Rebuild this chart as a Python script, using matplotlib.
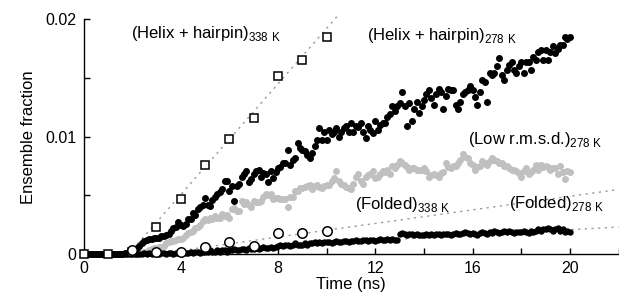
import numpy as np
import matplotlib
matplotlib.use("Agg")
import matplotlib.pyplot as plt
from matplotlib.ticker import FixedLocator

plt.rcParams['font.family'] = ['Liberation Sans', 'DejaVu Sans']
plt.rcParams['mathtext.fontset'] = 'custom'
plt.rcParams['mathtext.rm'] = 'Liberation Sans'

# ---------------- data ----------------
SCALE = 1e-4  # values below are in units of 1e-4 ensemble fraction
time_ns = np.round(np.arange(201) * 0.1, 1)

helix_hairpin_278 = [
    0, 0, 0, 0, 0, 0, 0, 0, 0, 0,
    0, 0, 0, 0, 0, 0, 0, 1, 1, 2,
    3, 4, 5, 7, 9, 11, 12, 13, 13, 14,
    14, 14, 15, 15, 16, 17, 20, 22, 23, 27,
    25, 24, 26, 30, 30, 35, 33, 38, 40, 42,
    48, 42, 41, 46, 49, 51, 53, 55, 62, 62,
    54, 58, 45, 58, 60, 66, 68, 71, 61, 64,
    68, 71, 72, 66, 69, 68, 61, 71, 65, 70,
    73, 74, 78, 78, 89, 76, 80, 82, 95, 90,
    89, 88, 84, 82, 86, 92, 97, 107, 97, 104,
    97, 106, 102, 104, 107, 100, 104, 107, 109, 104,
    112, 104, 109, 108, 112, 104, 99, 109, 106, 103,
    113, 106, 110, 112, 112, 117, 119, 126, 122, 126,
    129, 138, 126, 109, 129, 113, 124, 130, 120, 126,
    131, 136, 140, 133, 127, 136, 141, 138, 124, 135,
    141, 140, 140, 127, 124, 130, 136, 138, 140, 143,
    140, 134, 127, 138, 148, 147, 130, 154, 153, 154,
    160, 167, 153, 148, 157, 161, 164, 157, 154, 160,
    164, 154, 164, 164, 157, 168, 165, 172, 174, 165,
    174, 165, 172, 177, 171, 175, 178, 178, 185, 183,
    185,
]

low_rmsd_278 = [
    0, 0, 0, 0, 0, 0, 0, 0, 0, 0,
    0, 0, 0, 0, 0, 0, 0, 0, 0, 0,
    0, 0, 0, 1, 1, 2, 2, 3, 4, 5,
    5, 6, 6, 7, 9, 10, 11, 11, 12, 13,
    13, 14, 16, 18, 19, 20, 22, 23, 25, 28,
    30, 29, 31, 30, 32, 31, 31, 34, 32, 33,
    31, 38, 39, 37, 37, 45, 43, 44, 42, 40,
    45, 44, 44, 45, 49, 51, 50, 51, 47, 48,
    48, 47, 47, 47, 40, 49, 49, 54, 54, 56,
    56, 57, 58, 59, 55, 58, 59, 57, 56, 58,
    59, 59, 62, 65, 71, 62, 60, 59, 57, 56,
    55, 60, 66, 68, 62, 60, 66, 67, 68, 71,
    65, 66, 68, 71, 70, 72, 68, 75, 73, 76,
    79, 78, 76, 74, 72, 73, 73, 72, 72, 72,
    73, 71, 66, 67, 68, 67, 66, 69, 70, 78,
    74, 73, 75, 75, 78, 80, 85, 83, 82, 78,
    76, 72, 74, 75, 79, 78, 76, 79, 82, 80,
    79, 78, 78, 75, 75, 73, 72, 72, 71, 69,
    66, 71, 73, 68, 70, 72, 76, 72, 76, 74,
    75, 74, 72, 73, 73, 68, 75, 70, 64, 71,
    70,
]

folded_278 = [
    0, 0, 0, 0, 0, 0, 0, 0, 0, 0,
    0, 0, 0, 0, 0, 0, 0, 0, 0, 0,
    0, 0, 0, 0, 0, 1, 0, 1, 0, 1,
    1, 0, 1, 1, 0, 1, 1, 0, 1, 1,
    1, 2, 1, 1, 2, 1, 2, 2, 1, 2,
    2, 2, 3, 2, 2, 3, 2, 3, 3, 2,
    3, 3, 4, 3, 3, 4, 4, 3, 5, 4,
    4, 5, 4, 5, 6, 5, 5, 6, 5, 6,
    7, 8, 7, 8, 8, 7, 8, 9, 8, 8,
    8, 9, 8, 9, 9, 10, 9, 10, 9, 10,
    10, 10, 9, 10, 11, 10, 10, 11, 11, 10,
    11, 11, 12, 11, 11, 12, 12, 11, 12, 12,
    11, 12, 13, 12, 12, 13, 12, 13, 12, 12,
    17, 18, 17, 16, 17, 17, 16, 17, 16, 16,
    16, 17, 16, 17, 16, 17, 17, 16, 17, 17,
    17, 16, 17, 18, 17, 17, 18, 19, 18, 17,
    18, 17, 16, 18, 19, 18, 17, 19, 18, 20,
    19, 18, 19, 20, 19, 20, 19, 18, 19, 19,
    19, 20, 19, 18, 20, 19, 20, 21, 20, 21,
    21, 22, 21, 20, 21, 22, 20, 21, 19, 20,
    19,
]

t338_helix = [0, 1, 2, 3, 4, 5, 6, 7, 8, 9, 10]
helix_hairpin_338 = [0, 0, 2, 23, 47, 76, 98, 116, 152, 165, 185]

t338_folded = [2, 3, 4, 5, 6, 7, 8, 9, 10]
folded_338 = [3, 2, 2, 6, 10, 7, 18, 18, 20]

# linear guide lines (end points)
fit_helix_338_x = [1.86, 10.45]
fit_helix_338_y = [0, 203]
fit_folded_338_x = [3.0, 22.0]
fit_folded_338_y = [0, 55]
fit_folded_278_x = [2.0, 22.0]
fit_folded_278_y = [0, 23]

# ---------------- figure ----------------
fig = plt.figure(figsize=(6.19, 2.95), dpi=100)
ax = fig.add_axes([83.5 / 619, 41 / 295, 535 / 619, 234.6 / 295])

sc = lambda v: np.asarray(v, dtype=float) * SCALE
dot_kw = dict(linestyle='none', clip_on=False)
line_kw = dict(color='#9a9a9a', lw=1.0, linestyle=(0, (1.6, 3.2)), zorder=1, clip_on=False)

ax.plot(fit_helix_338_x, sc(fit_helix_338_y), **line_kw)
ax.plot(fit_folded_338_x, sc(fit_folded_338_y), **line_kw)
ax.plot(fit_folded_278_x, sc(fit_folded_278_y), **line_kw)

ax.plot(time_ns, sc(low_rmsd_278), marker='o', ms=4.0, mfc='#c0c0c0', mec='#c0c0c0',
        zorder=2, **dot_kw)
ax.plot(time_ns, sc(helix_hairpin_278), marker='o', ms=4.0, mfc='black', mec='black',
        zorder=3, **dot_kw)
ax.plot(time_ns, sc(folded_278), marker='o', ms=3.6, mfc='black', mec='black',
        zorder=3, **dot_kw)
ax.plot(t338_helix, sc(helix_hairpin_338), marker='s', ms=6.3, mfc='white', mec='black',
        mew=1.1, zorder=5, **dot_kw)
ax.plot(t338_folded, sc(folded_338), marker='o', ms=6.8, mfc='white', mec='black',
        mew=1.1, zorder=5, **dot_kw)

# annotations
fs = 12
ax.text(1.97, 0.0188, r'(Helix + hairpin)$_{\mathrm{338\ K}}$', fontsize=fs, va='center', ha='left')
ax.text(11.64, 0.0186, r'(Helix + hairpin)$_{\mathrm{278\ K}}$', fontsize=fs, va='center', ha='left')
ax.text(15.8, 0.0098, r'(Low r.m.s.d.)$_{\mathrm{278\ K}}$', fontsize=fs, va='center', ha='left')
ax.text(11.17, 0.0042, r'(Folded)$_{\mathrm{338\ K}}$', fontsize=fs, va='center', ha='left')
ax.text(17.5, 0.0043, r'(Folded)$_{\mathrm{278\ K}}$', fontsize=fs, va='center', ha='left')

# axes styling
ax.set_xlim(0, 22)
ax.set_ylim(0, 0.02)
ax.spines['top'].set_visible(False)
ax.spines['right'].set_visible(False)
for s in ('left', 'bottom'):
    ax.spines[s].set_linewidth(1.0)
ax.xaxis.set_major_locator(FixedLocator([0, 4, 8, 12, 16, 20]))
ax.xaxis.set_minor_locator(FixedLocator([2, 6, 10, 14, 18, 22]))
ax.yaxis.set_major_locator(FixedLocator([0, 0.01, 0.02]))
ax.yaxis.set_minor_locator(FixedLocator([0.005, 0.015]))
ax.set_yticklabels(['0', '0.01', '0.02'])
ax.tick_params(which='both', direction='in', length=4, width=1.0, labelsize=11.5, pad=5)
ax.set_xlabel('Time (ns)', fontsize=12, labelpad=1)
ax.set_ylabel('Ensemble fraction', fontsize=12, labelpad=7)

fig.savefig('out.png', dpi=100)
